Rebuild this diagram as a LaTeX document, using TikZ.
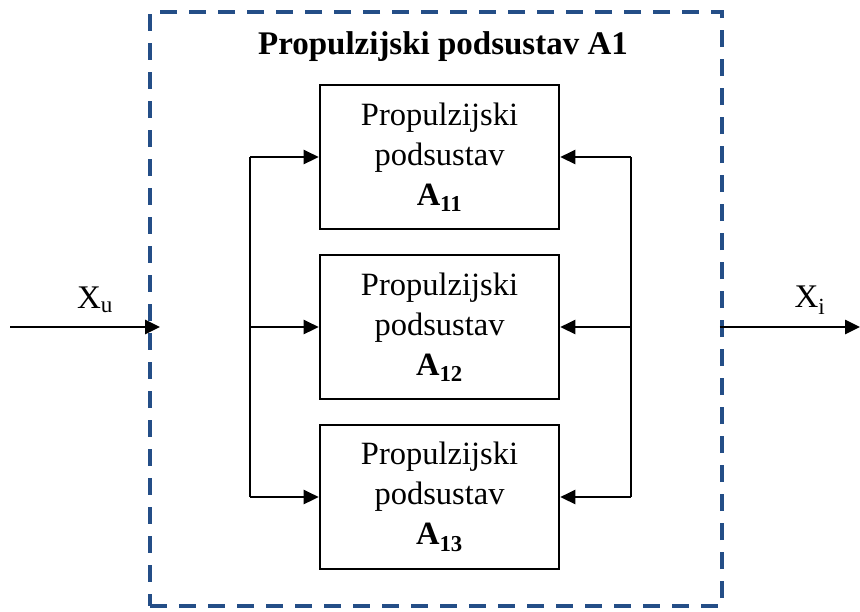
\documentclass[tikz,border=0pt]{standalone}
\usepackage{fontspec}
\setmainfont{Liberation Serif}
\usetikzlibrary{arrows.meta,positioning}
\definecolor{frameblue}{RGB}{36,78,135}
\tikzset{sub style/.style={draw,line width=2.6pt,minimum width=239pt,minimum height=144pt,align=center,inner sep=0pt,font=\fontsize{32.5}{40}\selectfont}}

\begin{document}
\begin{tikzpicture}[x=1pt,y=-1pt,node distance=170pt,line width=2.6pt,>={Triangle[length=15pt,width=14pt]}]
	\useasboundingbox (0,0) rectangle (860,611);
	
	\node[draw=frameblue,line width=3.8pt,dash pattern=on 17pt off 12pt,minimum width=572pt,minimum height=594pt] (frame) at (436,309) {};
	\node[font=\bfseries\fontsize{33}{40}\selectfont] (title) at (443,47) {Propulzijski podsustav A1};
	
	\node[sub style] (a11) at (439.5,157) {Propulzijski\\podsustav\\\textbf{A\textsubscript{11}}};
	\node[sub style] [below of=a11] (a12) {Propulzijski\\podsustav\\\textbf{A\textsubscript{12}}};
	\node[sub style] [below of=a12] (a13) {Propulzijski\\podsustav\\\textbf{A\textsubscript{13}}};
	
	\coordinate (lbus) at (250,0);
	\coordinate (rbus) at (631,0);
	\coordinate (in) at (10,0);
	\coordinate (out) at (860,0);
	
	% sabirnice
	\draw (lbus |- a11.west) -- (lbus |- a13.west);
	\draw (rbus |- a11.east) -- (rbus |- a13.east);
	\foreach \n in {a11,a12,a13} {
		\draw[->] (lbus |- \n.west) -- (\n.west);
		\draw[->] (rbus |- \n.east) -- (\n.east);
	}
	
	% ulaz i izlaz
	\draw[->] (in |- a12.west) -- ([xshift=12pt]frame.west |- a12.west);
	\draw[->] ([xshift=-4pt]frame.east |- a12.east) -- (out |- a12.east);
	\node[font=\fontsize{33}{40}\selectfont] (xu) at (95,300) {X\textsubscript{u}};
	\node[font=\fontsize{33}{40}\selectfont] (xi) at (810,300) {X\textsubscript{i}};
\end{tikzpicture}
\end{document}
